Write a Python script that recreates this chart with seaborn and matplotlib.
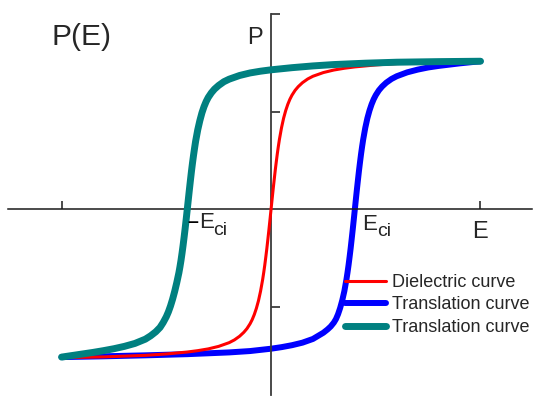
import numpy as np
import matplotlib
matplotlib.use('Agg')
import matplotlib.pyplot as plt
import seaborn as sns

# dielectric curve
red_E = [-1.0, -0.9, -0.8, -0.7, -0.6, -0.5, -0.4, -0.35, -0.3, -0.25, -0.2, -0.175, -0.15, -0.13,
         -0.115, -0.1, -0.09, -0.08, -0.07, -0.06, -0.05, -0.04, -0.035, -0.03, -0.025, -0.02,
         -0.015, -0.01, -0.005, 0.0,
         0.005, 0.01, 0.015, 0.02, 0.025, 0.03, 0.035, 0.04, 0.05, 0.06, 0.07, 0.08, 0.09, 0.1,
         0.115, 0.13, 0.15, 0.175, 0.2, 0.25, 0.3, 0.35, 0.4, 0.5, 0.6, 0.7, 0.8, 0.9, 1.0]
red_P = [-0.76, -0.758, -0.756, -0.752, -0.748, -0.741, -0.731, -0.724, -0.715, -0.702, -0.683, -0.669, -0.65, -0.63,
         -0.611, -0.586, -0.565, -0.539, -0.507, -0.468, -0.419, -0.359, -0.324, -0.286, -0.244, -0.2,
         -0.152, -0.103, -0.052, 0.0,
         0.052, 0.103, 0.152, 0.2, 0.244, 0.286, 0.324, 0.359, 0.419, 0.468, 0.507, 0.539, 0.565, 0.586,
         0.611, 0.63, 0.65, 0.669, 0.683, 0.702, 0.715, 0.724, 0.731, 0.741, 0.748, 0.752, 0.756, 0.758, 0.76]

# translation curve shifted to +Eci
blue_E = [-1.0, -0.8, -0.6, -0.4, -0.2, -0.1, 0.0, 0.05, 0.1, 0.15, 0.2, 0.225, 0.25, 0.27, 0.285,
          0.3, 0.31, 0.32, 0.33, 0.34, 0.35, 0.36, 0.365, 0.37, 0.375, 0.38, 0.385, 0.39, 0.395, 0.4,
          0.405, 0.41, 0.415, 0.42, 0.425, 0.43, 0.435, 0.44, 0.45, 0.46, 0.47, 0.48, 0.49, 0.5,
          0.515, 0.53, 0.55, 0.575, 0.6, 0.65, 0.7, 0.75, 0.8, 0.9, 1.0]
blue_P = [-0.757, -0.753, -0.748, -0.742, -0.733, -0.726, -0.714, -0.706, -0.696, -0.683, -0.664, -0.648, -0.632, -0.615, -0.6,
          -0.58, -0.562, -0.537, -0.505, -0.466, -0.419, -0.359, -0.324, -0.286, -0.244, -0.2, -0.152, -0.103, -0.052, 0.0,
          0.052, 0.103, 0.152, 0.2, 0.244, 0.286, 0.324, 0.359, 0.419, 0.468, 0.507, 0.539, 0.565, 0.586,
          0.611, 0.63, 0.65, 0.669, 0.683, 0.703, 0.717, 0.728, 0.736, 0.749, 0.76]

# translation curve shifted to -Eci
teal_E = [-1.0, -0.95, -0.9, -0.85, -0.8, -0.75, -0.7, -0.65, -0.6, -0.575, -0.55, -0.53, -0.515, -0.5,
          -0.49, -0.48, -0.47, -0.46, -0.45, -0.44, -0.435, -0.43, -0.425, -0.42, -0.415, -0.41, -0.405,
          -0.4, -0.395, -0.39, -0.385, -0.38, -0.375, -0.37, -0.365, -0.36, -0.35, -0.34, -0.33, -0.32,
          -0.31, -0.3, -0.285, -0.27, -0.25, -0.225, -0.2, -0.15, -0.1, -0.05, 0.0, 0.1, 0.2, 0.3,
          0.45, 0.6, 0.8, 1.0]
teal_P = [-0.757, -0.749, -0.741, -0.733, -0.724, -0.714, -0.702, -0.687, -0.665, -0.648, -0.627, -0.605, -0.58, -0.55,
          -0.525, -0.495, -0.46, -0.42, -0.375, -0.325, -0.295, -0.262, -0.225, -0.185, -0.142, -0.097, -0.049,
          0.0, 0.05, 0.1, 0.148, 0.195, 0.238, 0.278, 0.315, 0.35, 0.408, 0.455, 0.495, 0.527,
          0.553, 0.574, 0.598, 0.617, 0.636, 0.655, 0.668, 0.687, 0.7, 0.709, 0.716, 0.727, 0.736, 0.743,
          0.75, 0.755, 0.758, 0.76]

labels = ['Dielectric curve', 'Translation curve', 'Translation curve']

sns.set_style('white')
plt.rcParams['font.family'] = ['Liberation Sans', 'DejaVu Sans']

fig = plt.figure(figsize=(5.36, 4.0), dpi=100)
ax = fig.add_axes([0, 0, 1, 1])

sns.lineplot(x=blue_E, y=blue_P, color='#0000ff', linewidth=4.3, estimator=None, sort=False,
             label=labels[1], ax=ax, zorder=2, solid_capstyle='round')
sns.lineplot(x=red_E, y=red_P, color='#ff0000', linewidth=2.2, estimator=None, sort=False,
             label=labels[0], ax=ax, zorder=3, solid_capstyle='round')
sns.lineplot(x=teal_E, y=teal_P, color='#008080', linewidth=5.0, estimator=None, sort=False,
             label=labels[2], ax=ax, zorder=4, solid_capstyle='round')

ax.set_xlim(-1.294, 1.265)
ax.set_ylim(-0.977, 1.074)

# axes through the origin
for s in ['top', 'right']:
    ax.spines[s].set_visible(False)
ax.spines['left'].set_position(('data', 0))
ax.spines['bottom'].set_position(('data', 0))
ax.spines['left'].set_bounds(-0.951, 1.003)
ax.spines['bottom'].set_bounds(-1.255, 1.246)
ax.spines['left'].set_color('#3a3a3a')
ax.spines['bottom'].set_color('#1a1a1a')
ax.spines['left'].set_linewidth(1.3)
ax.spines['bottom'].set_linewidth(1.1)

ax.set_xticks([-1, 1])
ax.set_yticks([-0.5, 0.5, 1.0])
ax.tick_params(axis='x', bottom=True, direction='in', length=5.5, width=1.1, color='#1a1a1a', labelbottom=False)
ax.tick_params(axis='y', left=True, direction='in', length=6.5, width=1.1, color='#1a1a1a', labelleft=False)
ax.set_xlabel('')
ax.set_ylabel('')

ax.text(0.096, 0.907, 'P(E)', transform=ax.transAxes, fontsize=21.5, ha='left', va='center')
ax.text(0.475, 0.904, 'P', transform=ax.transAxes, fontsize=17, ha='center', va='center')
ax.text(0.895, 0.42, 'E', transform=ax.transAxes, fontsize=17, ha='center', va='center')

ax.text(0.350, 0.443, '\u2013', transform=ax.transAxes, fontsize=14, fontweight='bold',
        color='black', ha='left', va='center', zorder=10)
ax.text(0.371, 0.445, 'E', transform=ax.transAxes, fontsize=16, ha='left', va='center')
ax.text(0.397, 0.424, 'ci', transform=ax.transAxes, fontsize=14, ha='left', va='center')
ax.text(0.675, 0.44, 'E', transform=ax.transAxes, fontsize=16, ha='left', va='center')
ax.text(0.703, 0.42, 'ci', transform=ax.transAxes, fontsize=14, ha='left', va='center')

handles, labs = ax.get_legend_handles_labels()
order = [1, 0, 2]
ax.legend([handles[i] for i in order], [labs[i] for i in order], loc='upper left',
          bbox_to_anchor=(0.643, 0.315), frameon=False, fontsize=13,
          handlelength=2.3, handletextpad=0.3, labelspacing=0.3, borderpad=0, borderaxespad=0)

fig.savefig('out.png', dpi=100)
